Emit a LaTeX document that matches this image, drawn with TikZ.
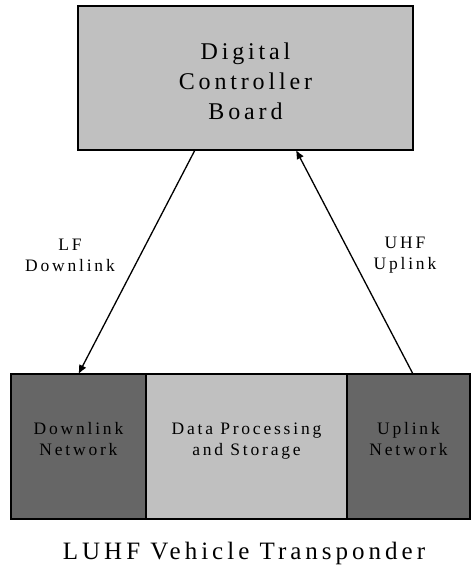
\documentclass[tikz,border=0pt]{standalone}
\usepackage{fontspec}
\setmainfont{Liberation Serif}[LetterSpace=16]
\usetikzlibrary{arrows.meta}
\definecolor{boxlight}{HTML}{C0C0C0}
\definecolor{boxdark}{HTML}{666666}

\begin{document}
\begin{tikzpicture}[x=1pt,y=-1pt,
        box/.style={draw,line width=1.2pt,inner sep=0pt,outer sep=0pt,align=center},
        link/.style={line width=1.3pt,-{Latex[length=9pt,width=8pt]}},
        lbl/.style={align=center,font=\fontsize{17.5}{21}\selectfont}]
    \useasboundingbox (0,0) rectangle (471,567);
    \node[box,fill=boxlight,minimum width=335pt,minimum height=144pt] (ctrl) at (245.5,78) {};
    \node[align=center,font=\fontsize{24}{30}\selectfont] (ctrltext) at (245.5,81) {Digital\\Controller\\Board};
    \node[box,fill=boxdark,minimum width=135pt,minimum height=145pt,
          font=\fontsize{17.5}{21}\selectfont] (down) at (78.5,446.5) {Downlink\\Network\\[-6pt]};
    \node[box,fill=boxlight,minimum width=201pt,minimum height=145pt,
          font=\fontsize{17.5}{21}\selectfont] (proc) at (246.5,446.5) {Data Processing\\and Storage\\[-6pt]};
    \node[box,fill=boxdark,minimum width=123pt,minimum height=145pt,
          font=\fontsize{17.5}{21}\selectfont] (up) at (408.5,446.5) {Uplink\\Network\\[-6pt]};
    \draw[link] ([xshift=-50.5pt]ctrl.south) -- (down.north);
    \draw[link] ([xshift=4.5pt]up.north) -- ([xshift=50.5pt]ctrl.south);
    \node[lbl] (lf) at (70,255) {LF\\Downlink};
    \node[lbl] (uhf) at (405,255) {UHF\\Uplink};
    \node[font=\fontsize{25}{30}\selectfont] (title) at (244,553) {LUHF Vehicle Transponder};
\end{tikzpicture}
\end{document}
